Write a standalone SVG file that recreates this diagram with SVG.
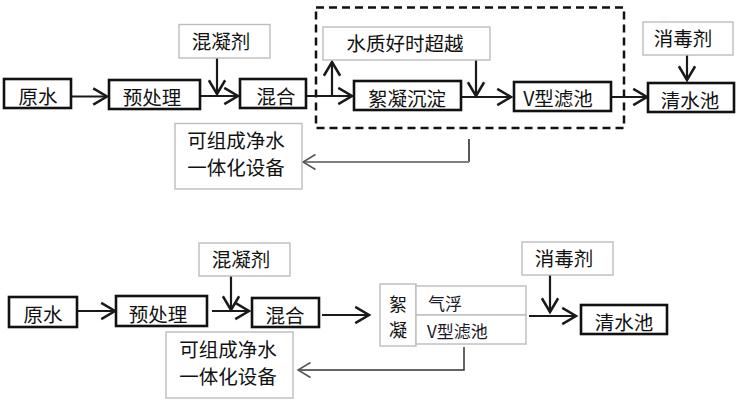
<svg xmlns="http://www.w3.org/2000/svg" width="740" height="404" viewBox="0 0 740 404">
<style>
.bk{fill:#fff;stroke:#111;stroke-width:2.6}
.gy{fill:#fff;stroke:#bdbdbd;stroke-width:1.4}
.t{font-family:"Noto Sans CJK SC","Microsoft YaHei",sans-serif;font-size:19.5px;fill:#111;text-anchor:middle}
.ts{font-family:"Noto Sans CJK SC","Microsoft YaHei",sans-serif;font-size:17px;fill:#1a1a2a}
.c{fill:none;stroke:#1a1a1a;stroke-width:2.2}
.cg{fill:none;stroke:#808080;stroke-width:2}
.cd{fill:none;stroke:#333;stroke-width:1.5}
</style>
<defs>
<marker id="a" markerUnits="userSpaceOnUse" markerWidth="20" markerHeight="20" refX="0" refY="0" viewBox="-14 -8 16 16" orient="auto" overflow="visible">
<path d="M-11,-6.5 L0,0 L-11,6.5" fill="none" stroke="#1a1a1a" stroke-width="2"/>
</marker>
<marker id="ag" markerUnits="userSpaceOnUse" markerWidth="20" markerHeight="20" refX="0" refY="0" viewBox="-14 -8 16 16" orient="auto" overflow="visible">
<path d="M-10,-6 L0,0 L-10,6" fill="none" stroke="#555" stroke-width="1.2"/>
</marker>
</defs>

<!-- top diagram -->
<rect x="316" y="7.5" width="308" height="120.5" fill="none" stroke="#111" stroke-width="2.5" stroke-dasharray="8 5"/>

<g id="connectors">
<path class="c" d="M71,96.5 H107" marker-end="url(#a)"/>
<path class="c" d="M200,96 H238" marker-end="url(#a)"/>
<path class="c" d="M217,58 V94" marker-end="url(#a)"/>
<path class="c" d="M306,96 H352" marker-end="url(#a)"/>
<path class="c" d="M332,96 V62" marker-end="url(#a)"/>
<path class="c" d="M461,97 H511" marker-end="url(#a)"/>
<path class="c" d="M476,60 V96" marker-end="url(#a)"/>
<path class="c" d="M611,97 H647" marker-end="url(#a)"/>
<path class="c" d="M687,55 V80" marker-end="url(#a)"/>
<path fill="none" stroke="#111" stroke-width="1.4" d="M469,139 V162"/>
<path class="cg" d="M469,162 H303" marker-end="url(#ag)"/>

<path class="c" d="M77,311 H115" marker-end="url(#a)"/>
<path class="c" d="M212,311 H249" marker-end="url(#a)"/>
<path class="c" d="M231,276 V310" marker-end="url(#a)"/>
<path class="c" d="M322,315 H369" marker-end="url(#a)"/>
<path class="c" d="M529,316 H576" marker-end="url(#a)"/>
<path class="c" d="M550,275 V312" marker-end="url(#a)"/>
<path class="cd" d="M464,347 V370 H298" marker-end="url(#ag)"/>
</g>

<g id="n1"><rect class="bk" x="4" y="79" width="67" height="29"/><text class="t" x="38" y="104">原水</text></g>
<g id="n2"><rect class="bk" x="109" y="80" width="91" height="29"/><text class="t" x="152" y="105">预处理</text></g>
<g id="n3"><rect class="gy" x="179" y="24.5" width="91" height="33.5"/><text class="t" x="221" y="49">混凝剂</text></g>
<g id="n4"><rect class="bk" x="240" y="79" width="66" height="29"/><text class="t" x="276" y="104">混合</text></g>
<g id="n5"><rect class="gy" x="323" y="27" width="167" height="33"/><text class="t" x="405" y="51">水质好时超越</text></g>
<g id="n6"><rect class="bk" x="354" y="81" width="107" height="29"/><text class="t" x="407" y="106">絮凝沉淀</text></g>
<g id="n7"><rect class="bk" x="514" y="82" width="97" height="29"/><text class="t" x="558" y="106">V型滤池</text></g>
<g id="n8"><rect class="gy" x="643" y="22" width="90" height="33"/><text class="t" x="683" y="46">消毒剂</text></g>
<g id="n9"><rect class="bk" x="648" y="83" width="86" height="29"/><text class="t" x="690" y="108">清水池</text></g>
<g id="n10"><rect class="gy" x="175" y="123.5" width="127" height="65.5"/><text class="t" x="236" y="148">可组成净水</text><text class="t" x="236" y="175">一体化设备</text></g>

<!-- bottom diagram -->
<g id="m1"><rect class="bk" x="9" y="297" width="68" height="30"/><text class="t" x="43" y="322">原水</text></g>
<g id="m2"><rect class="bk" x="116" y="296" width="91" height="30"/><text class="t" x="158" y="322">预处理</text></g>
<g id="m3"><rect class="gy" x="199" y="243" width="91" height="33"/><text class="t" x="241" y="267">混凝剂</text></g>
<g id="m4"><rect class="bk" x="252" y="298" width="67" height="29"/><text class="t" x="285" y="323">混合</text></g>
<g id="m5"><rect class="gy" x="380" y="284" width="36" height="62"/><text class="t" x="398" y="311" style="font-size:18px">絮</text><text class="t" x="398" y="337" style="font-size:18px">凝</text></g>
<g id="m6"><rect class="gy" x="416" y="286" width="110" height="29"/><text class="ts" x="428" y="310">气浮</text></g>
<g id="m7"><rect class="gy" x="416" y="315" width="110" height="29"/><text class="ts" x="427" y="338">V型滤池</text></g>
<g id="m8"><rect class="gy" x="522" y="242" width="91" height="33"/><text class="t" x="564" y="266">消毒剂</text></g>
<g id="m9"><rect class="bk" x="581" y="305" width="86" height="29"/><text class="t" x="624" y="330">清水池</text></g>
<g id="m10"><rect class="gy" x="166" y="332" width="127" height="66"/><text class="t" x="228" y="357">可组成净水</text><text class="t" x="228" y="384">一体化设备</text></g>
</svg>
